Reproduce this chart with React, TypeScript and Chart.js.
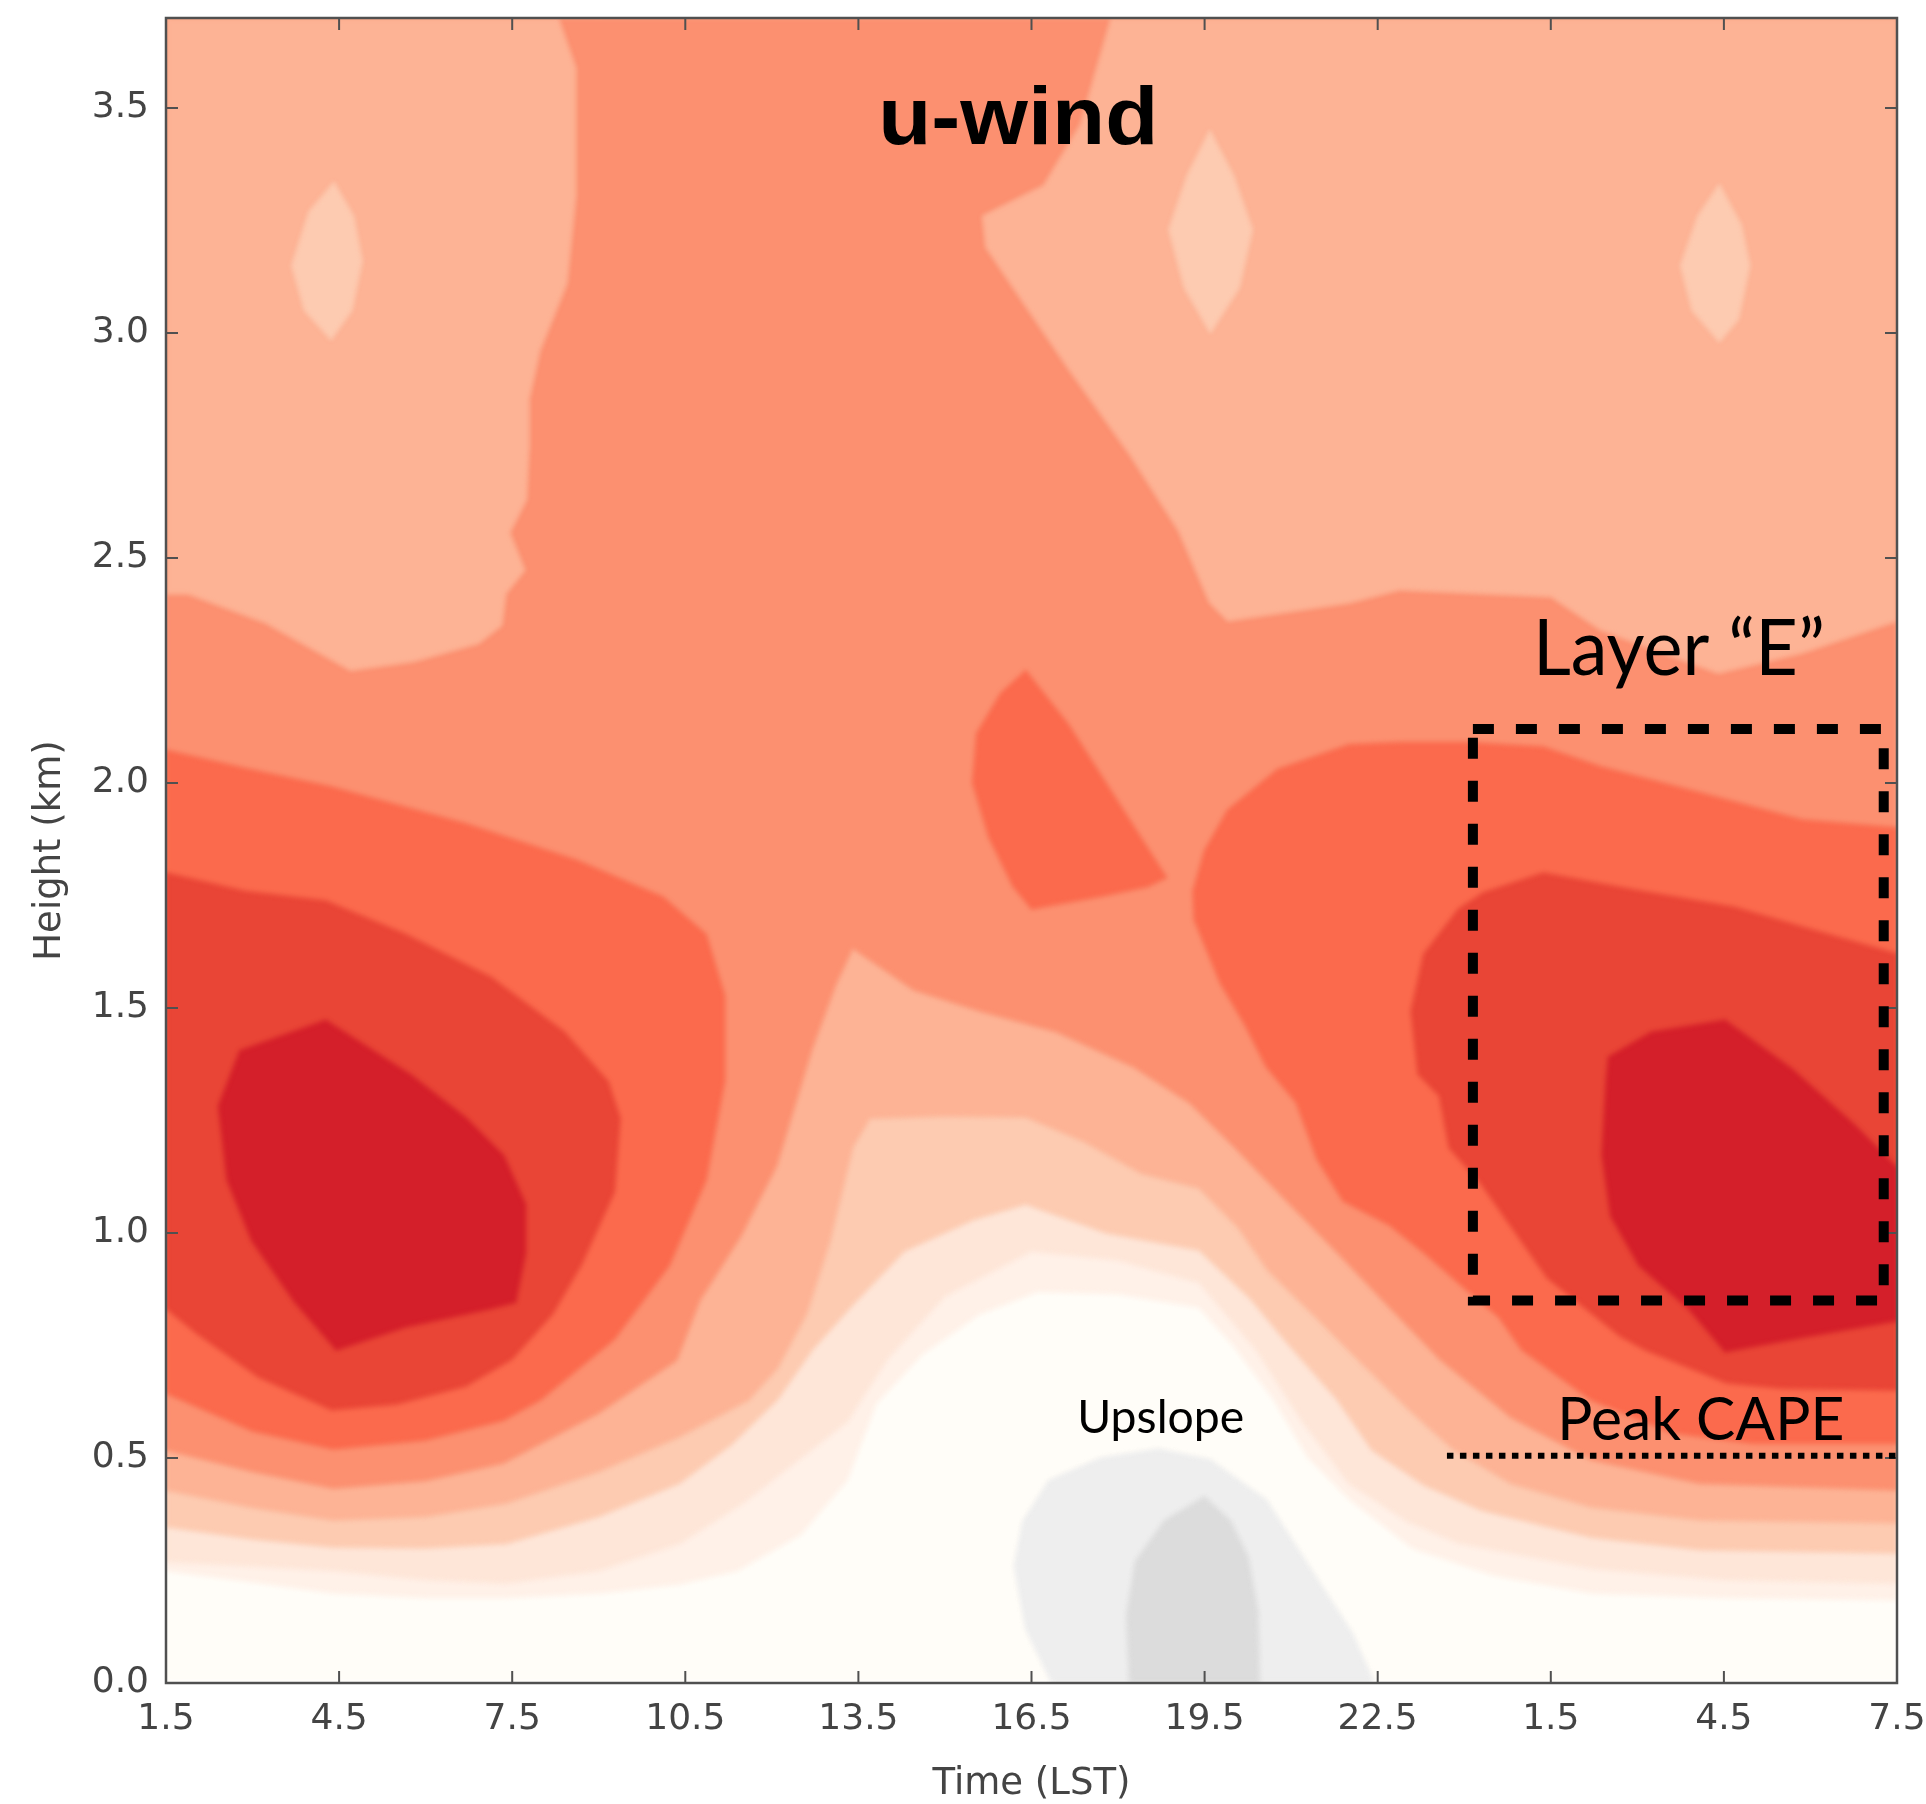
import React, { useEffect, useRef } from 'react';
import { Chart, registerables } from 'chart.js';

Chart.register(...registerables);

type Pt = [number, number];

// ---- axes ----
const X_MIN = 1.5;
const X_MAX = 31.5;
const Y_MIN = 0;
const Y_MAX = 3.7;

const X_TICKS = [1.5, 4.5, 7.5, 10.5, 13.5, 16.5, 19.5, 22.5, 25.5, 28.5, 31.5];
const X_TICK_LABELS = ['1.5', '4.5', '7.5', '10.5', '13.5', '16.5', '19.5', '22.5', '1.5', '4.5', '7.5'];
const Y_TICKS = [0, 0.5, 1, 1.5, 2, 2.5, 3, 3.5];
const Y_TICK_LABELS = ['0.0', '0.5', '1.0', '1.5', '2.0', '2.5', '3.0', '3.5'];

// ---- contour boundaries (time in hours, height in km) ----
const PLOT_BOUNDS: Pt[] = [[X_MIN, Y_MIN], [X_MAX, Y_MIN], [X_MAX, Y_MAX], [X_MIN, Y_MAX]];

const NEG_LIGHT: Pt[] = [
  [16.85, 0], [16.4, 0.12], [16.2, 0.26], [16.35, 0.36], [16.8, 0.45], [17.7, 0.5], [18.7, 0.52],
  [19.6, 0.496], [20.57, 0.407], [21.32, 0.258], [22.06, 0.111], [22.44, 0],
];
const NEG_DARK: Pt[] = [
  [18.2, 0], [18.15, 0.15], [18.3, 0.27], [18.8, 0.36], [19.5, 0.414], [19.95, 0.36], [20.25, 0.28],
  [20.42, 0.16], [20.45, 0],
];

const LEVEL1_BOTTOM: Pt[] = [
  [1.5, 0.25], [3.0, 0.225], [4.4, 0.2], [6.0, 0.19], [7.4, 0.19], [9.0, 0.2], [10.4, 0.22], [11.4, 0.25],
  [12.5, 0.33], [13.3, 0.45], [13.8, 0.62], [14.6, 0.73], [15.6, 0.82], [16.6, 0.87], [18.0, 0.865],
  [19.4, 0.835], [20.0, 0.75], [20.7, 0.63], [21.3, 0.5], [22.0, 0.41], [23.1, 0.3], [24.5, 0.24],
  [26.2, 0.2], [28.5, 0.19], [31.5, 0.185],
];
const LEVEL2_BOTTOM: Pt[] = [
  [1.5, 0.27], [3.0, 0.26], [4.4, 0.25], [6.0, 0.23], [7.4, 0.222], [9.0, 0.25], [10.4, 0.31], [11.5, 0.4],
  [12.5, 0.5], [13.3, 0.58], [14.0, 0.72], [15.0, 0.86], [16.5, 0.96], [18.0, 0.94], [19.4, 0.89],
  [20.4, 0.74], [21.2, 0.58], [22.0, 0.444], [23.0, 0.36], [23.9, 0.311], [26.2, 0.255], [28.5, 0.23],
  [31.5, 0.222],
];
const LEVEL3_BOTTOM: Pt[] = [
  [1.5, 0.347], [3.0, 0.32], [4.4, 0.302], [6.0, 0.3], [7.4, 0.31], [9.0, 0.37], [10.4, 0.444], [11.3, 0.53],
  [12.1, 0.63], [12.7, 0.74], [13.4, 0.84], [14.3, 0.96], [15.5, 1.03], [16.4, 1.064], [17.8, 1.0],
  [19.4, 0.962], [20.3, 0.853], [20.9, 0.76], [21.8, 0.629], [22.4, 0.518], [23.3, 0.44], [24.3, 0.384],
  [26.2, 0.324], [28.1, 0.296], [31.5, 0.289],
];
const LEVEL4_BOTTOM: Pt[] = [
  [1.5, 0.429], [3.0, 0.39], [4.4, 0.362], [6.0, 0.37], [7.4, 0.4], [9.0, 0.47], [10.4, 0.547], [11.6, 0.629],
  [12.1, 0.7], [12.6, 0.82], [13.0, 0.98], [13.4, 1.19], [13.7, 1.255], [15.0, 1.26], [16.4, 1.258],
  [17.4, 1.204], [18.4, 1.133], [19.4, 1.1], [20.1, 1.009], [20.6, 0.916], [21.35, 0.822], [22.2, 0.713],
  [23.1, 0.6], [23.8, 0.52], [24.8, 0.444], [26.2, 0.391], [28.1, 0.362], [31.5, 0.356],
];
const LEVEL5_BOTTOM: Pt[] = [
  [1.5, 0.518], [3.0, 0.47], [4.4, 0.433], [6.0, 0.45], [7.35, 0.489], [9.0, 0.6], [10.35, 0.717],
  [10.75, 0.85], [11.46, 0.993], [12.08, 1.149], [12.69, 1.407], [13.1, 1.55], [13.4, 1.633],
  [14.46, 1.54], [15.62, 1.493], [16.93, 1.447], [18.27, 1.369], [19.24, 1.289], [20.03, 1.189],
  [20.92, 1.071], [21.8, 0.956], [22.68, 0.838], [23.57, 0.72], [24.8, 0.591], [26.2, 0.496],
  [28.07, 0.444], [31.5, 0.429],
];
const PEACH_LEFT: Pt[] = [
  [1.5, 3.7], [8.3, 3.7], [8.6, 3.59], [8.6, 3.3], [8.45, 3.11], [7.98, 2.96], [7.79, 2.85], [7.79, 2.74],
  [7.75, 2.63], [7.46, 2.556], [7.72, 2.473], [7.39, 2.42], [7.32, 2.35], [6.92, 2.31], [5.8, 2.27],
  [4.7, 2.25], [3.22, 2.356], [1.88, 2.42], [1.5, 2.42],
];
const PEACH_RIGHT: Pt[] = [
  [17.88, 3.7], [31.5, 3.7], [31.5, 2.36], [29.86, 2.289], [28.4, 2.244], [26.36, 2.34], [25.5, 2.414],
  [22.88, 2.429], [22.0, 2.4], [19.9, 2.36], [19.59, 2.4], [19.05, 2.56], [18.2, 2.73], [17.14, 2.92],
  [16.29, 3.08], [15.71, 3.19], [15.65, 3.26], [16.71, 3.328], [17.35, 3.464],
];
const POCKET_LEFT: Pt[] = [
  [4.41, 3.335], [4.75, 3.26], [4.9, 3.16], [4.72, 3.05], [4.36, 2.985], [3.9, 3.05], [3.68, 3.15], [3.98, 3.27],
];
const POCKET_MID: Pt[] = [
  [19.59, 3.45], [20.0, 3.35], [20.33, 3.23], [20.1, 3.1], [19.6, 3.0], [19.15, 3.1], [18.88, 3.23], [19.2, 3.35],
];
const POCKET_RIGHT: Pt[] = [
  [28.42, 3.33], [28.8, 3.24], [28.95, 3.15], [28.75, 3.03], [28.42, 2.98], [27.95, 3.05], [27.75, 3.15], [28.05, 3.26],
];
const LEVEL6_LEFT: Pt[] = [
  [1.5, 2.073], [2.88, 2.032], [4.37, 1.991], [6.71, 1.909], [8.63, 1.828], [10.12, 1.746], [10.86, 1.664],
  [11.18, 1.528], [11.18, 1.337], [10.86, 1.118], [10.22, 0.927], [9.27, 0.764], [8.0, 0.63], [7.35, 0.584],
  [6.0, 0.54], [4.4, 0.52], [3.0, 0.56], [1.5, 0.644],
];
const LEVEL6_MID: Pt[] = [
  [16.4, 2.25], [17.14, 2.13], [17.99, 1.96], [18.84, 1.79], [18.52, 1.77], [17.78, 1.75], [16.5, 1.72],
  [16.18, 1.77], [15.76, 1.88], [15.48, 2.0], [15.55, 2.11], [15.97, 2.2],
];
const LEVEL6_RIGHT: Pt[] = [
  [19.3, 1.76], [19.5, 1.85], [19.9, 1.94], [20.76, 2.03], [22.0, 2.085], [22.88, 2.09], [24.04, 2.09],
  [25.37, 2.08], [26.36, 2.036], [28.1, 1.978], [29.86, 1.918], [31.5, 1.9], [31.5, 0.533], [29.0, 0.533],
  [27.6, 0.556], [26.2, 0.629], [25.0, 0.74], [24.6, 0.813], [24.0, 0.878], [23.3, 0.956], [22.7, 1.018],
  [21.9, 1.071], [21.45, 1.164], [21.09, 1.289], [20.57, 1.369], [20.2, 1.462], [19.77, 1.556], [19.32, 1.696],
];
const LEVEL7_LEFT: Pt[] = [
  [1.5, 1.8], [2.88, 1.759], [4.27, 1.738], [5.65, 1.664], [7.14, 1.568], [8.41, 1.446], [9.16, 1.337],
  [9.37, 1.255], [9.27, 1.091], [8.7, 0.93], [8.2, 0.82], [7.5, 0.72], [6.7, 0.66], [5.5, 0.62],
  [4.37, 0.607], [3.1, 0.68], [2.03, 0.777], [1.5, 0.832],
];
const LEVEL7_RIGHT: Pt[] = [
  [23.08, 1.493], [23.3, 1.62], [23.9, 1.72], [24.33, 1.756], [25.37, 1.8], [26.95, 1.762], [28.68, 1.724],
  [29.86, 1.68], [31.5, 1.62], [31.5, 0.651], [29.5, 0.655], [28.54, 0.667], [27.14, 0.74], [26.71, 0.77],
  [25.44, 0.9], [24.28, 1.111], [23.74, 1.189], [23.57, 1.304], [23.2, 1.353],
];
const LEVEL8_LEFT: Pt[] = [
  [2.41, 1.282], [2.78, 1.405], [4.27, 1.473], [5.76, 1.35], [6.71, 1.255], [7.35, 1.173], [7.73, 1.064],
  [7.73, 0.955], [7.56, 0.846], [7.14, 0.832], [5.65, 0.791], [4.45, 0.74], [3.73, 0.846], [2.99, 0.982],
  [2.56, 1.118],
];
const LEVEL8_RIGHT: Pt[] = [
  [26.46, 1.337], [26.5, 1.391], [27.24, 1.446], [28.52, 1.473], [29.69, 1.364], [30.76, 1.241], [31.5, 1.146],
  [31.5, 0.805], [29.9, 0.769], [28.52, 0.736], [27.88, 0.832], [27.03, 0.927], [26.54, 1.037], [26.39, 1.173],
];

// overlay marks
const LAYER_E_BOX: Pt[] = [[24.15, 2.12], [31.27, 2.12], [31.27, 0.85], [24.15, 0.85]];
const PEAK_CAPE_LINE: Pt[] = [[23.7, 0.505], [31.55, 0.505]];

const LABELS = [
  { text: 'u-wind', x: 16.27, y: 3.42 },
  { text: 'Layer “E”', x: 27.72, y: 2.24 },
  { text: 'Upslope', x: 18.74, y: 0.556 },
  { text: 'Peak CAPE', x: 28.1, y: 0.54 },
];
const LABEL_STYLE = [
  { font: 'bold 81px "Liberation Sans"', width: 280 },
  { font: '77px Lato', width: 292 },
  { font: '46px Lato', width: 167 },
  { font: '60px Lato', width: 287 },
];

const C = {
  l0: '#fffdf8',
  l1: '#fff1e8',
  l2: '#fee6d8',
  l3: '#fdcbb1',
  l4: '#fdb395',
  l5: '#fc9070',
  l6: '#fb6a4d',
  l7: '#e94536',
  l8: '#d41f2a',
  neg1: '#eeeeee',
  neg2: '#dcdcdc',
};

const above = (curve: Pt[]): Pt[] => [...curve, [X_MAX, Y_MAX], [X_MIN, Y_MAX]];

const LAYERS: [string, Pt[], string][] = [
  ['base', PLOT_BOUNDS, C.l0],
  ['neg1', NEG_LIGHT, C.neg1],
  ['neg2', NEG_DARK, C.neg2],
  ['l1', above(LEVEL1_BOTTOM), C.l1],
  ['l2', above(LEVEL2_BOTTOM), C.l2],
  ['l3', above(LEVEL3_BOTTOM), C.l3],
  ['l4', above(LEVEL4_BOTTOM), C.l4],
  ['l5', above(LEVEL5_BOTTOM), C.l5],
  ['peachL', PEACH_LEFT, C.l4],
  ['peachR', PEACH_RIGHT, C.l4],
  ['pocketL', POCKET_LEFT, C.l3],
  ['pocketM', POCKET_MID, C.l3],
  ['pocketR', POCKET_RIGHT, C.l3],
  ['l6L', LEVEL6_LEFT, C.l6],
  ['l6M', LEVEL6_MID, C.l6],
  ['l6R', LEVEL6_RIGHT, C.l6],
  ['l7L', LEVEL7_LEFT, C.l7],
  ['l7R', LEVEL7_RIGHT, C.l7],
  ['l8L', LEVEL8_LEFT, C.l8],
  ['l8R', LEVEL8_RIGHT, C.l8],
];

const overlayPlugin = {
  id: 'overlay',
  beforeDatasetsDraw(chart: any) {
    chart.ctx.save();
    chart.ctx.filter = 'blur(2px)';
  },
  afterDatasetsDraw(chart: any) {
    chart.ctx.restore();
  },
  afterDraw(chart: any) {
    const ctx: CanvasRenderingContext2D = chart.ctx;
    const a = chart.chartArea;
    const xs = chart.scales.x;
    const ys = chart.scales.y;
    const px = (v: number) => xs.getPixelForValue(v);
    const py = (v: number) => ys.getPixelForValue(v);
    ctx.save();
    // frame
    ctx.strokeStyle = '#505050';
    ctx.lineWidth = 2.5;
    ctx.strokeRect(a.left, a.top, a.right - a.left, a.bottom - a.top);
    // inward ticks
    ctx.lineWidth = 2;
    ctx.beginPath();
    X_TICKS.forEach((v) => {
      const x = px(v);
      ctx.moveTo(x, a.bottom); ctx.lineTo(x, a.bottom - 12);
      ctx.moveTo(x, a.top); ctx.lineTo(x, a.top + 12);
    });
    Y_TICKS.forEach((v) => {
      const y = py(v);
      ctx.moveTo(a.left, y); ctx.lineTo(a.left + 12, y);
      ctx.moveTo(a.right, y); ctx.lineTo(a.right - 12, y);
    });
    ctx.stroke();
    // dashed box
    ctx.strokeStyle = '#000';
    ctx.lineWidth = 10;
    ctx.setLineDash([21, 22]);
    ctx.beginPath();
    LAYER_E_BOX.forEach(([x, y], i) => (i ? ctx.lineTo(px(x), py(y)) : ctx.moveTo(px(x), py(y))));
    ctx.closePath();
    ctx.stroke();
    // dotted line
    ctx.lineWidth = 6;
    ctx.setLineDash([6.5, 6.5]);
    ctx.beginPath();
    PEAK_CAPE_LINE.forEach(([x, y], i) => (i ? ctx.lineTo(px(x), py(y)) : ctx.moveTo(px(x), py(y))));
    ctx.stroke();
    ctx.setLineDash([]);
    // labels
    LABELS.forEach((lab, i) => {
      const st = LABEL_STYLE[i];
      ctx.save();
      ctx.font = st.font;
      const w = ctx.measureText(lab.text).width;
      ctx.translate(px(lab.x), py(lab.y));
      ctx.scale(st.width / w, 1);
      ctx.textAlign = 'center';
      ctx.textBaseline = 'alphabetic';
      ctx.fillStyle = '#000';
      ctx.fillText(lab.text, 0, 0);
      ctx.restore();
    });
    ctx.restore();
  },
};

export default function App() {
  const ref = useRef<HTMLCanvasElement>(null);
  useEffect(() => {
    const canvas = ref.current;
    if (!canvas) return;
    const datasets = LAYERS.map(([label, pts, color], i) => ({
      label,
      data: [...pts, pts[0]].map(([x, y]) => ({ x, y })),
      fill: 'shape' as const,
      backgroundColor: color,
      borderColor: color,
      borderWidth: 1,
      pointRadius: 0,
      tension: 0,
      order: LAYERS.length - i,
    }));
    const chart = new Chart(canvas, {
      type: 'line',
      data: { datasets: datasets as any },
      options: {
        animation: false,
        responsive: false,
        devicePixelRatio: 1,
        events: [],
        layout: { padding: { top: 18, right: 29, bottom: 0, left: 0 } },
        plugins: { legend: { display: false }, tooltip: { enabled: false } },
        scales: {
          x: {
            type: 'linear',
            min: X_MIN,
            max: X_MAX,
            grid: { display: false, drawTicks: false },
            border: { display: false },
            afterBuildTicks: (s: any) => { s.ticks = X_TICKS.map((v) => ({ value: v })); },
            afterFit: (s: any) => {
              s.height = 121;
              s.paddingLeft = 0; s.paddingRight = 0; s.paddingTop = 0; s.paddingBottom = 0;
            },
            ticks: {
              autoSkip: false,
              maxRotation: 0,
              minRotation: 0,
              padding: 15,
              color: '#444',
              font: { family: 'DejaVu Sans', size: 36 },
              callback: (_v: any, i: number) => X_TICK_LABELS[i],
            },
            title: {
              display: true,
              text: 'Time (LST)',
              color: '#444',
              font: { family: 'DejaVu Sans', size: 37, lineHeight: 1.05 },
              padding: { top: 0, bottom: 0 },
            },
          },
          y: {
            type: 'linear',
            min: Y_MIN,
            max: Y_MAX,
            grid: { display: false, drawTicks: false },
            border: { display: false },
            afterBuildTicks: (s: any) => { s.ticks = Y_TICKS.map((v) => ({ value: v })); },
            afterFit: (s: any) => {
              s.width = 166;
              s.paddingLeft = 0; s.paddingRight = 0; s.paddingTop = 0; s.paddingBottom = 0;
            },
            ticks: {
              autoSkip: false,
              padding: 17,
              color: '#444',
              font: { family: 'DejaVu Sans', size: 36 },
              callback: (_v: any, i: number) => Y_TICK_LABELS[i],
            },
            title: {
              display: true,
              text: 'Height (km)',
              color: '#444',
              font: { family: 'DejaVu Sans', size: 37 },
              padding: { top: 28, bottom: 0 },
            },
          },
        },
      },
      plugins: [overlayPlugin],
    });
    return () => chart.destroy();
  }, []);
  return (
    <div style={{ position: 'absolute', left: 0, top: 0, width: 1926, height: 1804, background: '#fff' }}>
      <canvas ref={ref} width={1926} height={1804} style={{ display: 'block' }} />
    </div>
  );
}
